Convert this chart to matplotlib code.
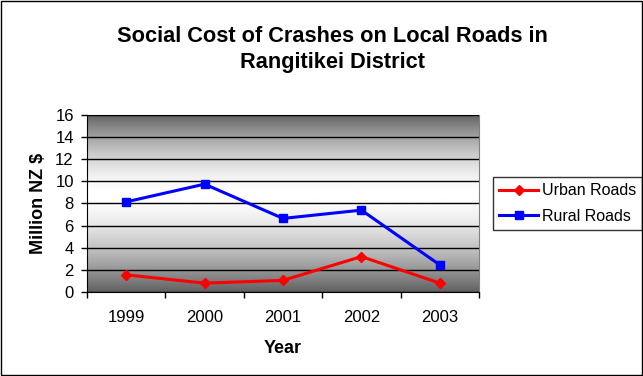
import matplotlib
matplotlib.use("Agg")
import matplotlib.pyplot as plt
import numpy as np
from matplotlib.patches import Rectangle

years = ["1999", "2000", "2001", "2002", "2003"]
urban = [1.55, 0.8, 1.05, 3.2, 0.8]
rural = [8.15, 9.75, 6.65, 7.4, 2.45]
yticks = [0, 2, 4, 6, 8, 10, 12, 14, 16]

plt.rcParams['font.family'] = ['Liberation Sans', 'DejaVu Sans']

fig = plt.figure(figsize=(6.43, 3.76), dpi=100)
fig.patch.set_facecolor('white')
fig.patches.append(Rectangle((0.0015, 0.002), 0.997, 0.995, transform=fig.transFigure,
                             fill=False, edgecolor='black', linewidth=1.0))

ax = fig.add_axes([87/643, 1-292/376, 392/643, 177/376])

# gradient background
t = np.linspace(0, 1, 300)
peak = 0.55
d = np.abs(t - peak) / np.where(t > peak, 1 - peak, peak)
val = 1.0 - 0.62 * d**1.6
img = np.tile(val[:, None], (1, 2))
ax.imshow(img, extent=[0, 1, 0, 1], transform=ax.transAxes, origin='lower',
          cmap='gray', vmin=0, vmax=1, aspect='auto', zorder=0, interpolation='bilinear')

x = np.arange(len(years))
ax.set_xlim(-0.5, len(years) - 0.5)
ax.set_ylim(0, 16)
ax.set_yticks(yticks)
ax.set_xticks(x)
ax.set_xticklabels(years)
ax.set_xticks(np.arange(-0.5, len(years)), minor=True)
ax.tick_params(axis='x', which='major', length=0, pad=13, labelsize=12)
ax.tick_params(axis='x', which='minor', length=4.5, width=1, direction='out')
ax.tick_params(axis='y', length=4.5, width=1, direction='out', labelsize=12, pad=5)
ax.grid(axis='y', color='black', linewidth=1, zorder=1)
ax.set_axisbelow(False)

ax.plot(x, urban, color='#ff0000', marker='D', markersize=5, linewidth=2.2, label='Urban Roads', zorder=3)
ax.plot(x, rural, color='#0000ff', marker='s', markersize=6, linewidth=2.2, label='Rural Roads', zorder=3)

for s in ['top', 'right']:
    ax.spines[s].set_color('#808080')
for s in ['left', 'bottom']:
    ax.spines[s].set_color('black')

ax.set_xlabel('Year', fontsize=13, fontweight='bold', labelpad=11)
ax.set_ylabel('Million NZ $', fontsize=13, fontweight='bold', labelpad=6)

fig.text(0.517, 1 - 49.5/376, 'Social Cost of Crashes on Local Roads in\nRangitikei District',
         ha='center', va='center', fontsize=15.7, fontweight='bold', linespacing=1.3)

leg = ax.legend(loc='center left', bbox_to_anchor=(493/643, 1-203.5/376), bbox_transform=fig.transFigure,
                fontsize=11.5, frameon=True, fancybox=False, handlelength=2.4, handletextpad=0.25,
                borderpad=0.4, labelspacing=0.65, borderaxespad=0)
leg.get_frame().set_edgecolor('black')
leg.get_frame().set_linewidth(1)

fig.savefig('out.png', dpi=100)
